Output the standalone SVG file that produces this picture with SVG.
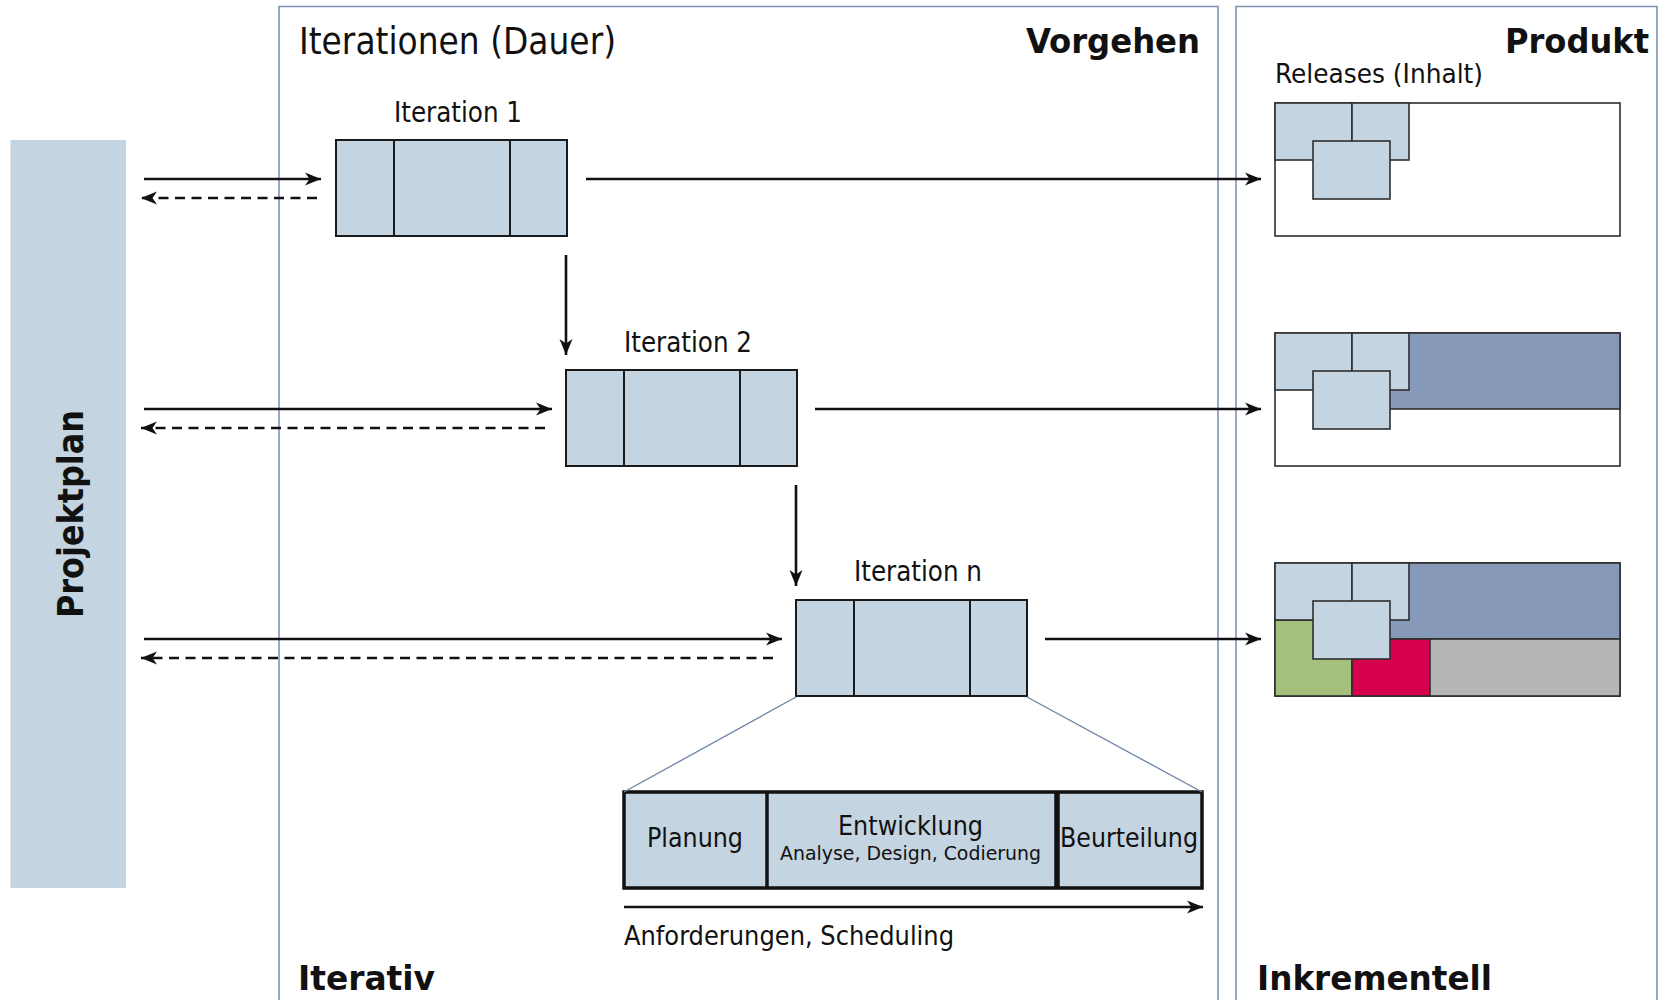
<svg xmlns="http://www.w3.org/2000/svg" width="1662" height="1000" viewBox="0 0 1662 1000">
<defs>
<style>
text{font-family:"DejaVu Sans Condensed","DejaVu Sans","Liberation Sans",sans-serif;fill:#111;}
.b{font-weight:bold;}
.frame{fill:none;stroke:#7d95b1;stroke-width:1.6;}
.it{fill:#c5d4e1;stroke:#1a1a1a;stroke-width:2;}
.rel{stroke:#2e2e2e;stroke-width:1.6;}
.lb{fill:#c5d4e1;}
.conn{stroke:#111;stroke-width:2.6;fill:none;}
.dash{stroke-dasharray:10 6.5;}
.zoom{stroke:#6a84a3;stroke-width:1.3;fill:none;}
</style>
<marker id="ah" markerUnits="userSpaceOnUse" markerWidth="18" markerHeight="14" refX="16" refY="7" orient="auto">
<path d="M0,0.5 L16,7 L0,13.5 L4.5,7 z" fill="#111"/>
</marker>
</defs>
<rect width="1662" height="1000" fill="#fff"/>

<g id="frame-vorgehen">
<path class="frame" d="M279,1001 V6.5 H1218 V1001"/>
<text x="299" y="54" font-size="37" textLength="317" lengthAdjust="spacingAndGlyphs">Iterationen (Dauer)</text>
<text class="b" x="1026" y="53" font-size="34" textLength="174" lengthAdjust="spacingAndGlyphs">Vorgehen</text>
<text class="b" x="298" y="990" font-size="34" textLength="137" lengthAdjust="spacingAndGlyphs">Iterativ</text>
</g>

<g id="frame-produkt">
<path class="frame" d="M1236,1001 V6.5 H1657 V1001"/>
<text class="b" x="1505" y="53" font-size="34" textLength="144" lengthAdjust="spacingAndGlyphs">Produkt</text>
<text x="1275" y="83" font-size="27" textLength="208" lengthAdjust="spacingAndGlyphs">Releases (Inhalt)</text>
<text class="b" x="1257" y="990" font-size="34" textLength="235" lengthAdjust="spacingAndGlyphs">Inkrementell</text>
</g>

<g id="projektplan">
<rect x="10.5" y="140" width="115.5" height="748" fill="#c5d4e1"/>
<text class="b" transform="translate(83,514) rotate(-90)" x="0" y="0" font-size="35" text-anchor="middle" textLength="208" lengthAdjust="spacingAndGlyphs">Projektplan</text>
</g>

<g id="iteration1">
<text x="394" y="122" font-size="28" textLength="128" lengthAdjust="spacingAndGlyphs">Iteration 1</text>
<rect class="it" x="336" y="140" width="231" height="96"/>
<line class="it" x1="394" y1="140" x2="394" y2="236"/>
<line class="it" x1="510" y1="140" x2="510" y2="236"/>
</g>

<g id="iteration2">
<text x="624" y="352" font-size="28" textLength="128" lengthAdjust="spacingAndGlyphs">Iteration 2</text>
<rect class="it" x="566" y="370" width="231" height="96"/>
<line class="it" x1="624" y1="370" x2="624" y2="466"/>
<line class="it" x1="740" y1="370" x2="740" y2="466"/>
</g>

<g id="iterationn">
<text x="854" y="581" font-size="28" textLength="128" lengthAdjust="spacingAndGlyphs">Iteration n</text>
<rect class="it" x="796" y="600" width="231" height="96"/>
<line class="it" x1="854" y1="600" x2="854" y2="696"/>
<line class="it" x1="970" y1="600" x2="970" y2="696"/>
</g>

<g id="release1">
<rect class="rel" x="1275" y="103" width="345" height="133" fill="#fff"/>
<rect class="rel lb" x="1275" y="103" width="77" height="57"/>
<rect class="rel lb" x="1352" y="103" width="57" height="57"/>
<rect class="rel lb" x="1313" y="141" width="77" height="58"/>
</g>

<g id="release2">
<rect class="rel" x="1275" y="333" width="345" height="133" fill="#fff"/>
<rect class="rel" x="1352" y="333" width="268" height="76" fill="#8799b9"/>
<rect class="rel lb" x="1275" y="333" width="77" height="57"/>
<rect class="rel lb" x="1352" y="333" width="57" height="57"/>
<rect class="rel lb" x="1313" y="371" width="77" height="58"/>
</g>

<g id="release3">
<rect class="rel" x="1275" y="563" width="345" height="133" fill="#fff"/>
<rect class="rel" x="1352" y="563" width="268" height="76" fill="#8799b9"/>
<rect class="rel" x="1275" y="620" width="77" height="76" fill="#a4c07c"/>
<rect class="rel" x="1352" y="639" width="78" height="57" fill="#d6004e"/>
<rect class="rel" x="1430" y="639" width="190" height="57" fill="#b5b5b5"/>
<rect class="rel lb" x="1275" y="563" width="77" height="57"/>
<rect class="rel lb" x="1352" y="563" width="57" height="57"/>
<rect class="rel lb" x="1313" y="601" width="77" height="58"/>
</g>

<g id="detail">
<rect x="624" y="792" width="578" height="96" fill="#c5d4e1" stroke="#111" stroke-width="3.5"/>
<line x1="767" y1="792" x2="767" y2="888" stroke="#111" stroke-width="3.5"/>
<line x1="1057" y1="792" x2="1057" y2="888" stroke="#111" stroke-width="5.5"/>
<text x="647" y="847" font-size="27" textLength="96" lengthAdjust="spacingAndGlyphs">Planung</text>
<text x="838" y="835" font-size="27" textLength="145" lengthAdjust="spacingAndGlyphs">Entwicklung</text>
<text x="780" y="860" font-size="20" textLength="261" lengthAdjust="spacingAndGlyphs">Analyse, Design, Codierung</text>
<text x="1060" y="847" font-size="27" textLength="138" lengthAdjust="spacingAndGlyphs">Beurteilung</text>
<text x="624" y="945" font-size="27" textLength="330" lengthAdjust="spacingAndGlyphs">Anforderungen, Scheduling</text>
</g>

<g id="connectors">
<line class="conn" x1="144" y1="179" x2="321" y2="179" marker-end="url(#ah)"/>
<line class="conn dash" x1="317" y1="198" x2="141" y2="198" marker-end="url(#ah)"/>
<line class="conn" x1="144" y1="409" x2="552" y2="409" marker-end="url(#ah)"/>
<line class="conn dash" x1="545" y1="428" x2="141" y2="428" marker-end="url(#ah)"/>
<line class="conn" x1="144" y1="639" x2="782" y2="639" marker-end="url(#ah)"/>
<line class="conn dash" x1="773" y1="658" x2="141" y2="658" marker-end="url(#ah)"/>
<line class="conn" x1="586" y1="179" x2="1261" y2="179" marker-end="url(#ah)"/>
<line class="conn" x1="815" y1="409" x2="1261" y2="409" marker-end="url(#ah)"/>
<line class="conn" x1="1045" y1="639" x2="1261" y2="639" marker-end="url(#ah)"/>
<line class="conn" x1="566" y1="255" x2="566" y2="355" marker-end="url(#ah)"/>
<line class="conn" x1="796" y1="485" x2="796" y2="586" marker-end="url(#ah)"/>
<line class="zoom" x1="796" y1="697" x2="624" y2="792"/>
<line class="zoom" x1="1027" y1="697" x2="1202" y2="792"/>
<line class="conn" x1="624" y1="907" x2="1203" y2="907" marker-end="url(#ah)"/>
</g>
</svg>
